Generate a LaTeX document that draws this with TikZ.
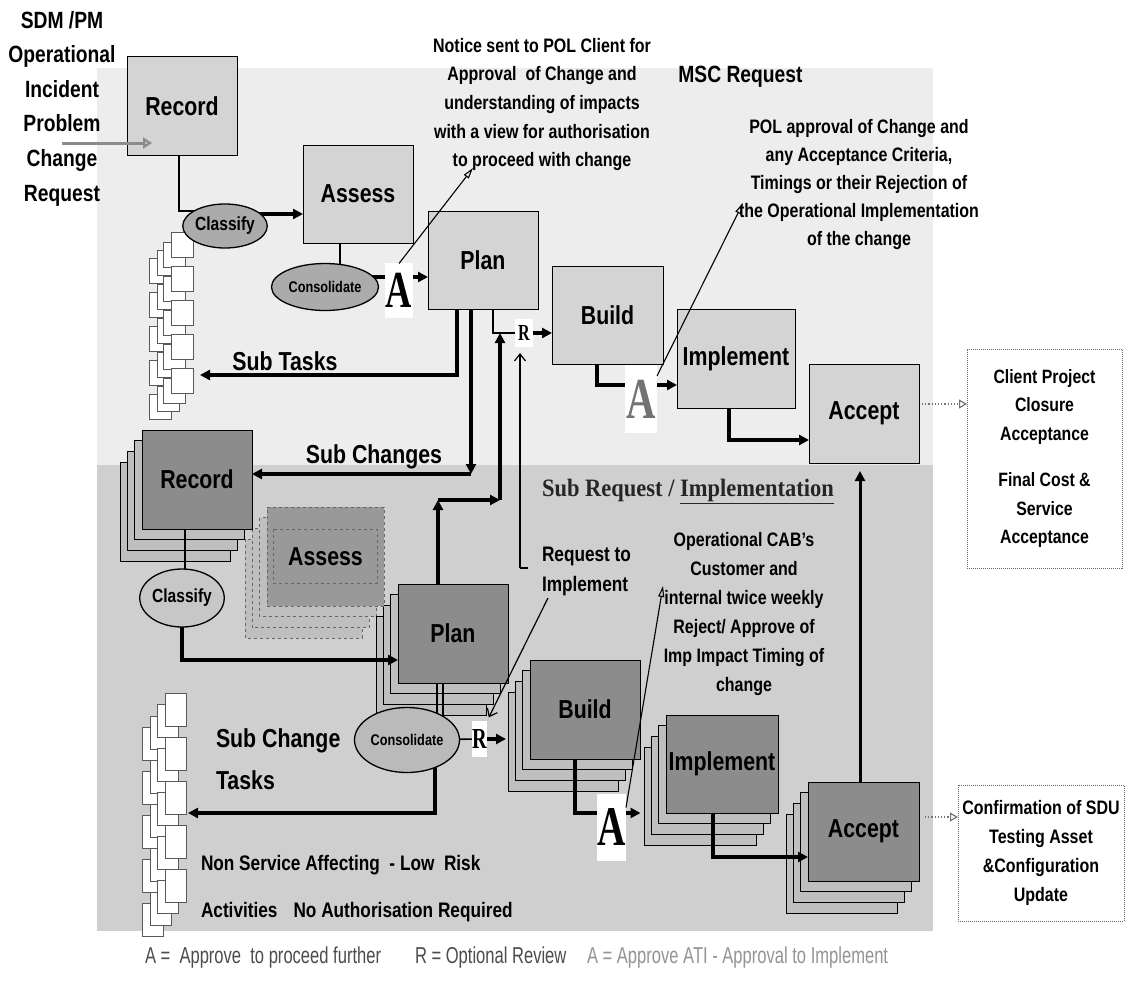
\documentclass[tikz,border=0pt]{standalone}
\usepackage{fontspec}
\setmainfont{Liberation Sans}
\newfontfamily\nb{Liberation Sans}[FakeStretch=0.82]
\newfontfamily\nr{Liberation Sans}[FakeStretch=0.72]
\newfontfamily\sr{Liberation Serif}[FakeStretch=0.9]
\newfontfamily\sa{Liberation Serif}[FakeStretch=0.7]
\usetikzlibrary{arrows.meta,shapes.geometric}
\pgfdeclarelayer{back}\pgfdeclarelayer{stk}\pgfdeclarelayer{mid}\pgfdeclarelayer{top}
\pgfsetlayers{back,stk,mid,main,top}
\newcommand\fsz[2]{\fontsize{#1}{#2}\selectfont}
\newcommand\stkcopies[5]{\foreach \i in {3,2,1}{\draw[#5] ({#1-7.3*\i},{#2+10.8*\i}) rectangle ++(#3,#4);}}
\begin{document}
\begin{tikzpicture}[x=1pt,y=-1pt,
  every node/.style={inner sep=0pt,outer sep=0pt},
  lab/.style={font={\nb\bfseries\fsz{26}{30}}},
  ubox/.style={draw,line width=1pt,fill=black!17,lab},
  lbox/.style={draw,line width=1pt,fill=black!45,lab},
  sbox/.style={draw,line width=0.9pt,fill=black!25},
  sboxd/.style={draw=black!60,dashed,line width=0.9pt,fill=black!25},
  tbox/.style={draw=black!65,line width=0.8pt,fill=white},
  ell/.style={ellipse,draw,line width=1.3pt,fill=black!33},
  abox/.style={fill=white,font={\sa\bfseries\fsz{52}{52}}},
  rbox/.style={fill=white,font={\sa\bfseries\fsz{23}{23}}},
  dbox/.style={draw=black!60,densely dotted,line width=1pt,fill=white},
  txt/.style={font={\nb\bfseries\fsz{19.5}{28.7}},align=center},
  big/.style={font={\nb\bfseries\fsz{26}{30}}},
  thk/.style={line width=3.5pt,-{Triangle[length=10pt,width=10pt]}},
  thkn/.style={line width=3.5pt},
  ln/.style={line width=1.6pt},
  mln/.style={line width=2.6pt},
  thn/.style={line width=1.1pt,-{Triangle[open,length=11pt,width=6pt]}},
  barb/.style={line width=1.2pt,-{Straight Barb[length=7pt,width=11pt]}},
  dotarr/.style={draw=black!55,dotted,line width=1.2pt,-{Triangle[open,length=8pt,width=9pt]}},
  leg/.style={font={\nr\fsz{23}{26}}}
]
\useasboundingbox (0,0) rectangle (1133,990);
\begin{pgfonlayer}{back}
  \fill[white] (0,0) rectangle (1133,990);
  \fill[black!7] (97,68) rectangle (933,465);
  \fill[black!19] (97,465) rectangle (933,931);
\end{pgfonlayer}

% stacked copies and task stacks
\begin{pgfonlayer}{stk}
  \stkcopies{142}{430}{110}{99}{sbox}
  \stkcopies{267}{507}{117}{99}{sboxd}
  \stkcopies{398}{584}{110}{99}{sbox}
  \stkcopies{530}{660}{110}{99}{sbox}
  \stkcopies{666}{715}{112}{98}{sbox}
  \stkcopies{808}{782}{111}{99}{sbox}
  \foreach \k in {0,...,4}{
    \foreach \cx/\cy in {149/26,157/18,163/10,171/0}{
      \draw[tbox] (\cx,{232+34*\k+\cy}) rectangle ++(22,25);
    }}
  \foreach \k in {0,...,4}{
    \foreach \cx/\cy in {142/34,150/23,157/11,165/0}{
      \draw[tbox] (\cx,{693+44*\k+\cy}) rectangle ++(21,33);
    }}
\end{pgfonlayer}

% upper boxes
\node[ubox,minimum width=110pt,minimum height=98pt] (recU) at (182,106) {Record};
\node[ubox,minimum width=110pt,minimum height=98pt] (assU) at (358,194) {Assess};
\node[ubox,minimum width=110pt,minimum height=98pt] (planU) at (483,260) {Plan};
\node[ubox,minimum width=111pt,minimum height=98pt] (buildU) at (607.5,315) {Build};
\node[ubox,minimum width=118pt,minimum height=99pt] (implU) at (736,358.5) {Implement};
\node[ubox,minimum width=110pt,minimum height=99pt] (accU) at (864,413.5) {Accept};
% lower boxes
\node[lbox,minimum width=110pt,minimum height=99pt] (recL) at (197,479.5) {Record};
\node[draw=black!60,dashed,line width=0.9pt,fill=black!40,lab,minimum width=117pt,minimum height=99pt] (assL) at (325.5,556.5) {};
\draw[draw=black!60,dashed,line width=0.9pt] (273,529) rectangle (377,583);
\node[lab] (assLt) at (assL.center) {Assess};
\node[lbox,minimum width=110pt,minimum height=99pt] (planL) at (453,633.5) {Plan};
\node[lbox,minimum width=110pt,minimum height=99pt] (buildL) at (585,709.5) {Build};
\node[lbox,minimum width=112pt,minimum height=98pt] (implL) at (722,764) {Implement};
\node[lbox,minimum width=111pt,minimum height=99pt] (accL) at (863.5,831.5) {Accept};
% ellipses
\node[ell,minimum width=77pt,minimum height=44pt,font={\nb\bfseries\fsz{19}{22}}] (claU) at (225,226) {Classify};
\node[ell,minimum width=107pt,minimum height=47pt,font={\nb\bfseries\fsz{15.5}{18}}] (conU) at (325,287) {Consolidate};
\node[ell,fill=black!22,minimum width=79pt,minimum height=58pt,font={\nb\bfseries\fsz{19}{22}}] (claL) at (182,598) {Classify};
\node[ell,fill=black!27,minimum width=105pt,minimum height=65pt,font={\nb\bfseries\fsz{15.5}{18}}] (conL) at (407,740) {Consolidate};
% approval / review marks
\node[abox,minimum width=28pt,minimum height=55pt] (A1) at (399,290) {A};
\node[abox,minimum width=32pt,minimum height=68pt,font={\sa\bfseries\fsz{58}{58}},text=black!55] (A2) at (641,399) {A};
\node[abox,minimum width=29pt,minimum height=67pt,font={\sa\bfseries\fsz{56}{56}}] (A3) at (611.5,827) {A};
\node[rbox,minimum width=18pt,minimum height=28pt] (Rt) at (524,333) {R};
\node[rbox,minimum width=15pt,minimum height=36pt,font={\sa\bfseries\fsz{29}{29}}] (Rl) at (479.5,739) {R};

% texts
\node[align=center,anchor=north,font={\nb\bfseries\fsz{23.5}{34.6}}] (ttl) at (62,11) {SDM /PM\\Operational\\Incident\\Problem\\Change\\Request};
\node[txt,anchor=north] (notice) at (542,38) {Notice sent to POL Client for\\Approval\ \ of Change and\\understanding of impacts\\with a view for authorisation\\to proceed with change};
\node[anchor=base,font={\nb\bfseries\fsz{23.5}{28}}] (msc) at (740.5,83) {MSC Request};
\node[txt,anchor=north,font={\nb\bfseries\fsz{19.5}{28}}] (pol) at (859,119) {POL approval of Change and\\any Acceptance Criteria,\\Timings or their Rejection of\\the Operational Implementation\\of the change};
\node[dbox,minimum width=155pt,minimum height=219pt,align=center,font={\nb\bfseries\fsz{19.3}{28.5}}] (cl) at (1044.5,458.5) {Client Project\\Closure\\Acceptance\\[18pt]Final Cost \&\\Service\\Acceptance};
\node[dbox,minimum width=166pt,minimum height=136pt,align=center,font={\nb\bfseries\fsz{19.5}{29}}] (cf) at (1041,853) {Confirmation of SDU\\Testing Asset\\\&Configuration\\Update};
\node[anchor=base west,font={\sr\bfseries\fsz{25}{28}},text=black!85] (subreq) at (542,496) {Sub Request / \underline{Implementation}};
\node[anchor=north west,align=left,font={\nb\bfseries\fsz{21}{30}}] (reqimp) at (542,547) {Request to\\Implement};
\node[txt,anchor=north,font={\nb\bfseries\fsz{19.5}{29}}] (cab) at (744,532) {Operational CAB’s\\Customer and\\internal twice weekly\\Reject/ Approve of\\Imp Impact Timing of\\change};
\node[big,anchor=base] (st) at (285,370) {Sub Tasks};
\node[big,anchor=base] (sc) at (374,463) {Sub Changes};
\node[anchor=north west,align=left,font={\nb\bfseries\fsz{26}{42}}] (sct) at (216,729) {Sub Change\\Tasks};
\node[anchor=base west,font={\nb\bfseries\fsz{21}{24}}] (nsa) at (201,870) {Non Service Affecting\ \ - Low\ \ Risk};
\node[anchor=base west,font={\nb\bfseries\fsz{21}{24}}] (act) at (201,917) {Activities\hspace{16pt}No Authorisation Required};
\node[leg,anchor=base west,text=black!70] (leg1) at (145,963) {A =\ \ Approve\ \ to proceed further};
\node[leg,anchor=base west,text=black!70] (leg2) at (415,963) {R = Optional Review};
\node[leg,anchor=base west,text=black!42] (leg3) at (587,963) {A = Approve ATI - Approval to Implement};

% free ends
\coordinate (tskU) at (200,375);
\coordinate (tskL) at (188,813);
\coordinate (scc) at (471,474);
\coordinate (u2) at (500,500);
\coordinate (nt) at (473,168);
\coordinate (pt) at (743,203);
\coordinate (it) at (663,586);
\coordinate (rqb) at (520,568);
\coordinate (ri) at (548,598);
\coordinate (inS) at (62,143);

\begin{pgfonlayer}{mid}
  % upper flow
  \coordinate (c1) at ([xshift=-3pt]recU.south);
  \coordinate (c2) at ([yshift=15pt]claU.center);
  \draw[ln] (c1) |- (c2);
  \coordinate (c3) at ([yshift=12pt]claU.center);
  \draw[thk] (c3) -- (c3 -| assU.west);
  \coordinate (c4) at ([xshift=-18pt]assU.south);
  \draw[ln] (c4) -- (c4 |- conU.center);
  \coordinate (c5) at ([yshift=10pt]conU.center);
  \draw[thkn] (c5) -- (c5 -| A1.center);
  \coordinate (c6) at ([yshift=13pt]A1.east);
  \draw[thk] (c6) -- (c6 -| planU.west);
  \coordinate (c7) at ([xshift=-26pt]planU.south);
  \draw[thk] (c7) |- (tskU);
  \coordinate (c8) at ([xshift=-12pt]planU.south);
  \draw[thk] (c8) -- (c8 |- scc);
  \draw[thk] (scc) -- (scc -| recL.east);
  \coordinate (c9) at ([xshift=10pt]planU.south);
  \draw[mln] (c9) |- (Rt.west);
  \draw[thk] (Rt.east) -- (Rt.east -| buildU.west);
  \coordinate (c10) at ([xshift=-15pt]planL.north);
  \draw[thk] (c10) -- (c10 |- u2);
  \draw[thk] (c10 |- u2) -- (u2);
  \draw[thk] (u2) -- (u2 |- Rt.west);
  \coordinate (c11) at ([xshift=-10.5pt]buildU.south);
  \coordinate (c12) at ([yshift=14pt]A2.center);
  \draw[thkn] (c11) |- (c12);
  \coordinate (c13) at ([yshift=14pt]A2.east);
  \draw[thk] (c13) -- (c13 -| implU.west);
  \coordinate (c14) at ([xshift=-7pt]implU.south);
  \coordinate (c15) at ([yshift=-26.5pt]accU.west);
  \draw[thk] (c14) |- (c15);
  % lower flow
  \coordinate (d1) at ([xshift=-12pt]recL.south);
  \draw[ln] (d1) -- (d1 |- claL.center);
  \coordinate (d2) at ([yshift=-26.5pt]planL.west);
  \draw[thk] (claL.center) |- (d2);
  \draw[ln] ([xshift=-16pt]planL.south) -- ++(0,40);
  \draw[ln] ([xshift=-10pt]planL.south) -- ++(0,40);
  \draw[ln] (conL.center) -- (Rl.center);
  \draw[thk] (Rl.east) -- ++(19,0);
  \draw[thk] ([xshift=28pt]conL.center) |- (tskL);
  \coordinate (d3) at ([xshift=-10pt]buildL.south);
  \coordinate (d4) at ([yshift=14pt]A3.center);
  \draw[thkn] (d3) |- (d4);
  \draw[thk] ([yshift=14pt]A3.east) -- ++(14.5,0);
  \coordinate (d5) at ([xshift=-9pt]implL.south);
  \coordinate (d6) at ([yshift=-25.5pt]accL.west);
  \draw[thk] (d5) |- (d6);
  \coordinate (d7) at ([xshift=-3.5pt]accL.north);
  \draw[thk,line width=3pt,shorten >=8pt] (d7) -- (d7 |- accU.south);
\end{pgfonlayer}

\begin{pgfonlayer}{top}
  \draw[thn] ([yshift=-1pt]A1.north) -- (nt);
  \draw[thn] ([yshift=-11pt]A2.north east) -- (pt);
  \draw[thn] ([yshift=-14pt]A3.north east) -- (it);
  \draw[barb,shorten >=6pt] (rqb) -- (rqb |- Rt.south);
  \draw[ln,line width=1.2pt] (rqb) -- ++(8,0);
  \draw[barb,shorten >=4pt] (ri) -- (Rl.north east);
  \coordinate (inE) at ([xshift=25pt,yshift=-37pt]recU.west);
  \draw[line width=3pt,draw=black!45,-{Triangle[open,length=9pt,width=11pt]}] (inS) -- (inE);
  \coordinate (e1) at ([xshift=3pt,yshift=9.5pt]accU.east);
  \draw[dotarr] (e1) -- (e1 -| cl.west);
  \coordinate (e2) at ([xshift=6pt,yshift=14.5pt]accL.east);
  \draw[dotarr] (e2) -- (e2 -| cf.west);
\end{pgfonlayer}
\end{tikzpicture}
\end{document}
